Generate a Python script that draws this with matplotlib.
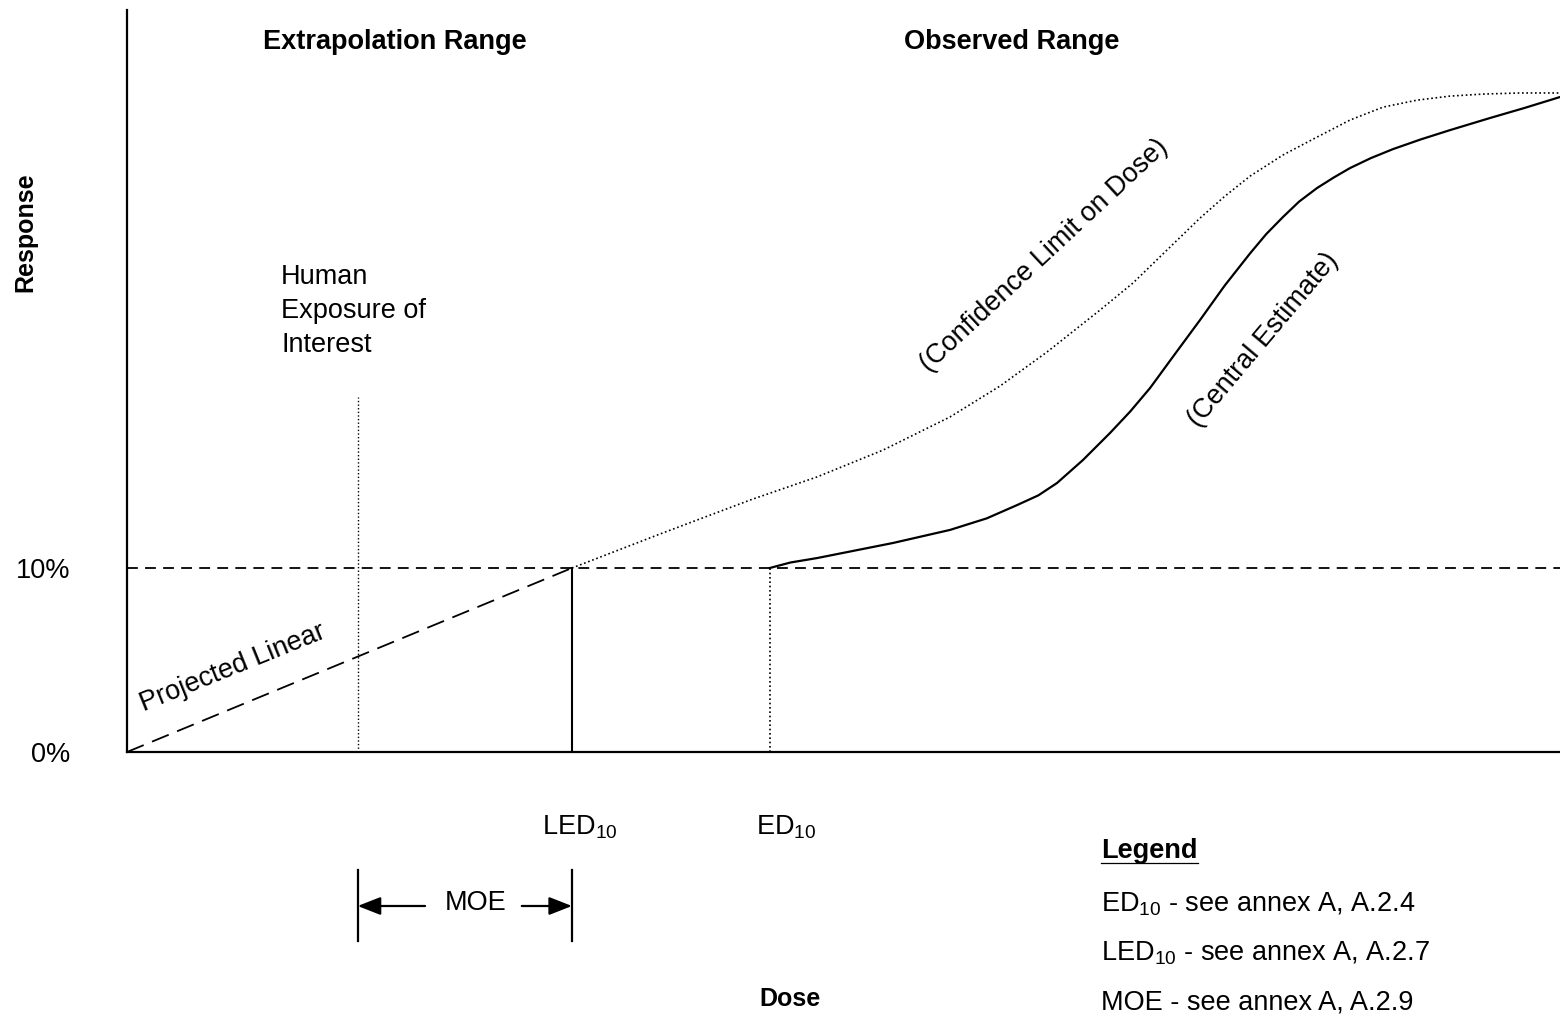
import numpy as np
import matplotlib
matplotlib.use('Agg')
import matplotlib.pyplot as plt

plt.rcParams['font.family'] = ['Liberation Sans', 'DejaVu Sans']
plt.rcParams['mathtext.fontset'] = 'custom'
plt.rcParams['mathtext.rm'] = 'Liberation Sans'
plt.rcParams['mathtext.it'] = 'Liberation Sans:italic'
plt.rcParams['mathtext.bf'] = 'Liberation Sans:bold'

# dose (arbitrary units, 0-100) and response (%)
led10 = 31.05
ed10 = 44.85
human_exp = 16.1
human_top = 19.3
bmr = 10.0

# projected linear from origin to LED10
lin_dose = [0.0, led10]
lin_resp = [0.0, bmr]

# lower confidence limit on dose (dotted)
cl_dose = [31.05, 37.2, 43.5, 48.15, 52.76, 57.43, 60.92, 64.2, 67.9, 70.2,
           72.57, 74.88, 76.6, 78.37, 80.67, 83.04, 85.35, 87.65, 90.02, 92.32,
           94.63, 97.21, 100.0]
cl_resp = [10.0, 11.85, 13.7, 14.95, 16.41, 18.21, 19.89, 21.74, 24.02, 25.49,
           27.28, 29.02, 30.2, 31.3, 32.45, 33.42, 34.35, 35.05, 35.43, 35.65,
           35.76, 35.82, 35.82]

# central estimate (solid)
ce_dose = [44.85, 46.3, 48.15, 50.8, 53.45, 57.43, 60.0, 62.11, 63.6, 64.9,
           66.71, 68.6, 70.0, 71.39, 73.1, 74.88, 76.6, 78.37, 79.5, 80.67,
           81.8, 83.04, 84.2, 85.35, 86.8, 88.35, 90.3, 92.32, 95.12, 97.5,
           100.0]
ce_resp = [10.0, 10.3, 10.54, 10.95, 11.36, 12.07, 12.7, 13.42, 13.95, 14.62,
           15.87, 17.34, 18.5, 19.78, 21.6, 23.48, 25.35, 27.1, 28.15, 29.08,
           29.92, 30.65, 31.22, 31.74, 32.28, 32.77, 33.3, 33.8, 34.46, 35.0,
           35.6]

legend_items = [r'ED$_{10}$ - see annex A, A.2.4',
                r'LED$_{10}$ - see annex A, A.2.7',
                'MOE - see annex A, A.2.9']

fs = 19.5

fig = plt.figure(figsize=(15.6, 10.18), dpi=100)
ax = fig.add_axes([127/1560, 266/1018, 1433/1560, 742/1018])
ax.set_xlim(0, 100)
ax.set_ylim(0, 40.33)
for s in ['top', 'right']:
    ax.spines[s].set_visible(False)
ax.spines['left'].set_linewidth(1.6)
ax.spines['bottom'].set_linewidth(1.6)
ax.set_xticks([])
ax.set_yticks([0, 10])
ax.set_yticklabels(['0%', '10%'], fontsize=fs)
ax.tick_params(axis='y', length=0, pad=41)

# 10% reference line
ax.axhline(bmr, color='k', lw=1.3, ls=(0, (6, 4)))

ax.plot(lin_dose, lin_resp, color='k', lw=1.3, ls=(0, (10, 5)))
ax.plot(cl_dose, cl_resp, color='k', lw=1.2, ls=(0, (1, 1.6)))
ax.plot(ce_dose, ce_resp, color='k', lw=1.6)

ax.plot([led10, led10], [0, bmr], color='k', lw=1.5)
ax.plot([ed10, ed10], [0, bmr], color='k', lw=1.2, ls=(0, (1, 1.6)))
ax.plot([human_exp, human_exp], [0, human_top], color='k', lw=1.0, ls=(0, (1, 1.6)))

# headings
ax.text(18.7, 38.6, 'Extrapolation Range', fontsize=fs, fontweight='bold',
        ha='center', va='center')
ax.text(61.75, 38.6, 'Observed Range', fontsize=fs, fontweight='bold',
        ha='center', va='center')
fig.text(25/1560, 1 - 232/1018, 'Response', fontsize=18, fontweight='bold',
         rotation=90, ha='center', va='center')

ax.text(10.75, 26.55, 'Human\nExposure of\nInterest', fontsize=fs,
        ha='left', va='top', linespacing=1.4)
ax.text(7.4, 4.55, 'Projected Linear', fontsize=fs, rotation=22,
        ha='center', va='center', rotation_mode='anchor')
ax.text(64.0, 27.0, '(Confidence Limit on Dose)', fontsize=fs, rotation=43,
        ha='center', va='center', rotation_mode='anchor')
ax.text(79.3, 22.4, '(Central Estimate)', fontsize=fs, rotation=50,
        ha='center', va='center', rotation_mode='anchor')

# dose markers below the axis
ax.text(led10 + 0.55, -4.1, r'LED$_{10}$', fontsize=fs, ha='center',
        va='center', clip_on=False)
ax.text(ed10 + 1.15, -4.1, r'ED$_{10}$', fontsize=fs, ha='center',
        va='center', clip_on=False)

# MOE bracket
moe_y = -8.37
for xv in [human_exp, led10]:
    ax.plot([xv, xv], [-6.41, -10.27], color='k', lw=1.6, clip_on=False)
arrow_style = '-|>,head_length=1.4,head_width=0.55'
ax.annotate('', xy=(human_exp, moe_y), xytext=(human_exp + 4.7, moe_y),
            arrowprops=dict(arrowstyle=arrow_style, color='k', lw=1.6,
                            shrinkA=0, shrinkB=0),
            annotation_clip=False)
ax.annotate('', xy=(led10, moe_y), xytext=(led10 - 3.5, moe_y),
            arrowprops=dict(arrowstyle=arrow_style, color='k', lw=1.6,
                            shrinkA=0, shrinkB=0),
            annotation_clip=False)
ax.text(24.3, moe_y + 0.15, 'MOE', fontsize=fs, ha='center', va='center',
        clip_on=False)

ax.text(46.25, -13.45, 'Dose', fontsize=18, fontweight='bold', ha='center',
        va='center', clip_on=False)

# legend block
lx = (1101 - 127) / 14.33
ax.text(lx, -5.4, 'Legend', fontsize=fs, fontweight='bold', ha='left',
        va='center', clip_on=False)
ax.plot([lx, lx + 6.8], [-6.05, -6.05], color='k', lw=0.9, clip_on=False)
for i, item in enumerate(legend_items):
    ax.text(lx, -8.3 - i * 2.65, item, fontsize=fs, ha='left', va='center',
            clip_on=False)

fig.savefig('out.png', dpi=100)
